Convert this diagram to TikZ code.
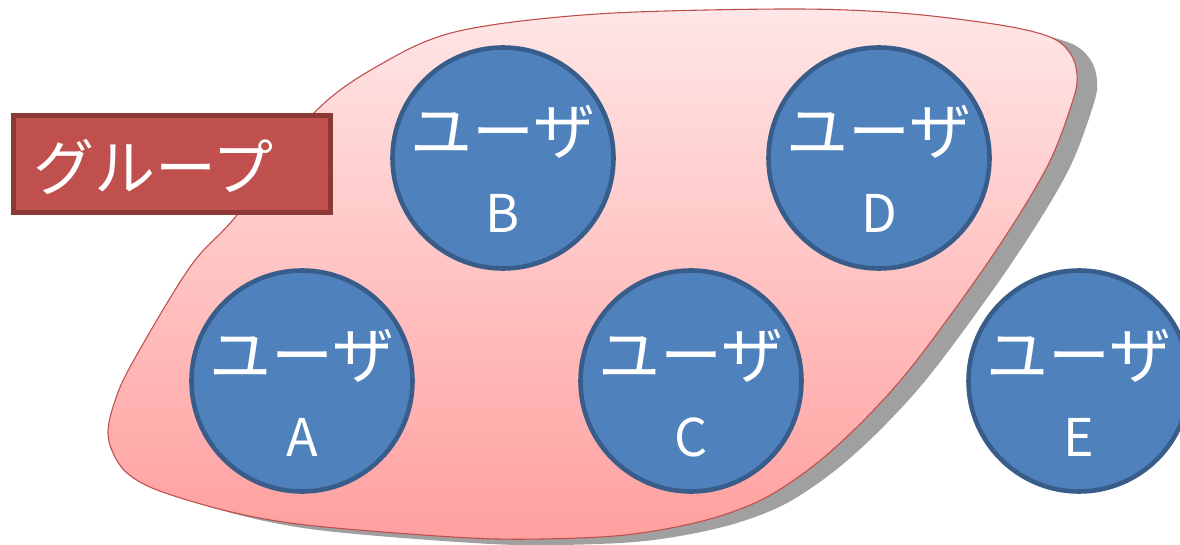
\documentclass[tikz,border=0pt]{standalone}
\usepackage{fontspec}
\setmainfont{Noto Sans CJK JP}
\definecolor{userfill}{HTML}{4F81BD}
\definecolor{userborder}{HTML}{385D8A}
\definecolor{grpfill}{HTML}{C0504D}
\definecolor{grpborder}{HTML}{8C3836}
\definecolor{blobtop}{HTML}{FFE6E6}
\definecolor{blobbot}{HTML}{FFA09F}
\definecolor{shadowgray}{HTML}{A0A0A0}
\begin{document}
\begin{tikzpicture}[x=1pt,y=-1pt,
  user/.style={circle, draw=userborder, fill=userfill, line width=4.6pt, minimum size=221pt, inner sep=0pt},
  ulbl/.style={text=white, font=\fontsize{62}{72}\selectfont, inner sep=0pt, anchor=base},
  uletter/.style={text=white, font=\fontsize{52}{62}\selectfont, inner sep=0pt, anchor=base},
  grpbox/.style={draw=grpborder, fill=grpfill, line width=5pt, minimum width=317pt, minimum height=97pt, inner sep=0pt},
  grptext/.style={text=white, font=\fontsize{61}{72}\selectfont, inner sep=0pt, anchor=base west},
  blobline/.style={draw=grpfill, line width=1.1pt, top color=blobtop, bottom color=blobbot}
]
\useasboundingbox (0,0) rectangle (1180,545);
\clip (0,0) rectangle (1180,545);
\def\blobpts{(314,113) (383,63) (459,31) (597,14) (785,9) (900,13) (1000,25) (1050,37) (1070,53) (1077,74) (1073,100) (1047,167) (993,255) (917,360) (867,417) (817,463) (767,497) (717,517) (660,530) (600,537) (497,539) (383,532) (290,523) (223,510) (157,490) (127,473) (113,453) (108,433) (113,407) (130,367) (190,267) (237,215)}
% shadow
\begin{scope}[shift={(20,6)}]
\fill[shadowgray] plot[smooth cycle, tension=0.55] coordinates {\blobpts};
\end{scope}
% group area
\path[blobline] plot[smooth cycle, tension=0.55] coordinates {\blobpts};
% label box
\node[grpbox] (grp) at (172,164.5) {};
\node[grptext] (grpt) at ([xshift=-139pt,yshift=-26pt]grp.center) {グループ};
% users
\node[user] (uA) at (302,381) {};
\node[user] (uB) at (503,158) {};
\node[user] (uC) at (691,381) {};
\node[user] (uD) at (879,158) {};
\node[user] (uE) at (1079,381) {};
\foreach \n/\l in {uA/A,uB/B,uC/C,uD/D,uE/E}{
  \node[ulbl] (\n t) at ([yshift=3pt]\n.center) {ユーザ};
  \node[uletter] (\n l) at ([yshift=-75pt]\n.center) {\l};
}
\end{tikzpicture}
\end{document}
